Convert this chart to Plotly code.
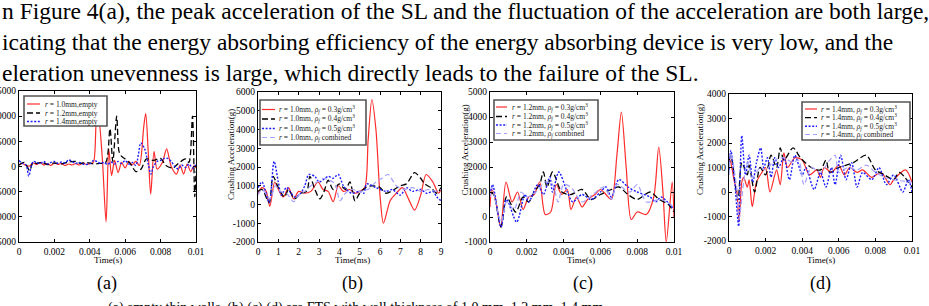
import plotly.graph_objects as go

# ---------------- data ----------------
# (a) empty thin walls: time (s), crushing acceleration (g)
a_r10 = [(0,300),(0.0002,600),(0.0004,200),(0.0006,100),(0.0008,700),(0.001,400),(0.0012,800),(0.0014,300),
         (0.0016,600),(0.0018,200),(0.002,700),(0.0022,400),(0.0024,600),(0.0026,200),(0.0028,500),(0.003,300),
         (0.0032,600),(0.0034,300),(0.0036,700),(0.0038,400),(0.004,600),(0.0042,800),(0.00438,9200),(0.00448,9800),
         (0.0047,2000),(0.00492,-11000),(0.00507,3500),(0.00523,-1800),(0.0054,1200),(0.0056,-1200),(0.0058,800),
         (0.006,-300),(0.0062,1000),(0.0064,300),(0.0066,1000),(0.0068,200),(0.00705,8000),(0.00716,10500),
         (0.0073,3000),(0.00744,-5500),(0.00763,3000),(0.0078,-500),(0.0081,800),(0.00834,3500),(0.0086,0),
         (0.0089,-1500),(0.0091,300),(0.0093,-1500),(0.0095,500),(0.0097,-1000),(0.0099,200),(0.01,-300)]
a_r12 = [(0,300),(0.0003,800),(0.0006,-800),(0.0008,900),(0.001,600),(0.0013,800),(0.0016,400),(0.002,700),
         (0.0024,500),(0.0028,900),(0.0032,1000),(0.0035,600),(0.0038,800),(0.0042,500),(0.0045,600),
         (0.0049,800),(0.00514,7500),(0.0053,1000),(0.00552,10000),(0.00565,3000),(0.0058,2000),(0.006,1500),
         (0.0063,500),(0.0066,-1000),(0.0069,-500),(0.0072,1500),(0.0076,1200),(0.008,1600),(0.0083,200),
         (0.0087,-300),(0.009,600),(0.0094,1500),(0.0096,800),(0.0098,10000),(0.00993,-6000),(0.01,-1000)]
a_r14 = [(0,1200),(0.0002,600),(0.0004,300),(0.00055,-1900),(0.0007,200),(0.0008,1000),(0.001,800),
         (0.0012,600),(0.0014,1000),(0.0016,500),(0.0018,800),(0.002,1000),(0.0022,600),(0.0024,900),
         (0.0026,700),(0.0028,1300),(0.003,1000),(0.0032,600),(0.0034,800),(0.0036,500),(0.0038,400),
         (0.004,500),(0.0042,1200),(0.0044,1000),(0.0046,600),(0.0048,800),(0.005,400),(0.0052,900),
         (0.0054,500),(0.0056,1000),(0.0058,600),(0.006,1200),(0.0062,500),(0.0064,800),(0.0066,200),
         (0.00675,2500),(0.00688,4700),(0.0071,3500),(0.0073,500),(0.00745,-1500),(0.0076,0),(0.0078,1000),
         (0.008,1200),(0.0082,1600),(0.0084,1600),(0.0086,1000),(0.0088,0),(0.009,-500),(0.0092,300),
         (0.0094,-200),(0.0096,500),(0.0098,-300),(0.01,300)]

# (b) FTS, wall 1.0 mm: time (ms), acceleration (g)
b_03 = [(0,600),(0.2,900),(0.4,700),(0.58,-100),(0.82,1200),(1.0,800),(1.25,400),(1.5,900),(1.75,300),
        (2.0,700),(2.3,600),(2.6,700),(2.95,1200),(3.2,800),(3.45,700),(3.7,150),(3.95,1000),(4.2,700),
        (4.5,800),(4.8,600),(5.0,700),(5.25,900),(5.42,3500),(5.6,5600),(5.8,4000),(6.0,500),(6.17,-1000),
        (6.5,200),(6.8,600),(7.1,900),(7.4,300),(7.7,-300),(8.0,500),(8.27,1600),(8.6,1200),(8.88,600),(9.0,800)]
b_04 = [(0,700),(0.2,800),(0.55,100),(0.74,1500),(1.0,900),(1.3,400),(1.5,800),(1.8,300),(2.1,600),
        (2.4,700),(2.55,1500),(2.8,800),(3.04,300),(3.25,700),(3.45,1300),(3.7,800),(4.0,1100),(4.3,800),
        (4.52,1200),(4.77,200),(5.0,600),(5.3,900),(5.6,1000),(6.0,900),(6.3,600),(6.7,800),(7.0,1000),
        (7.3,1100),(7.7,1700),(8.0,1400),(8.2,1100),(8.5,900),(8.8,600),(9.0,900)]
b_05 = [(0,900),(0.2,1200),(0.55,100),(0.79,2300),(1.0,1200),(1.15,500),(1.4,900),(1.8,400),(2.1,600),
        (2.3,1000),(2.5,1600),(2.8,1500),(3.0,1200),(3.45,1500),(3.7,1400),(3.95,1600),(4.2,1000),(4.6,600),
        (5.0,700),(5.2,600),(5.35,1100),(5.8,900),(6.3,700),(6.6,800),(7.0,500),(7.3,900),(7.6,700),(8.0,800),
        (8.3,600),(8.6,700),(8.8,400),(9.0,200)]
b_comb = [(0,500),(0.2,800),(0.6,300),(0.85,1000),(1.1,700),(1.4,600),(1.75,150),(2.0,500),(2.3,700),
          (2.6,1000),(2.9,1200),(3.2,1400),(3.5,1300),(3.8,1100),(4.03,200),(4.3,600),(4.6,800),(5.0,700),
          (5.4,800),(5.8,1200),(6.1,1400),(6.4,1600),(6.8,1000),(7.2,800),(7.6,900),(8.0,700),(8.4,800),
          (8.8,700),(9.0,800)]

# (c) FTS, wall 1.2 mm: time (s), acceleration (g)
c_03 = [(0,400),(0.0001,1100),(0.0003,700),(0.00058,-400),(0.00087,1400),(0.0012,600),(0.0015,1000),
        (0.0018,300),(0.0021,800),(0.0024,900),(0.0027,1400),(0.003,100),(0.0033,200),(0.0036,1300),
        (0.0039,900),(0.0042,1100),(0.0044,300),(0.0047,800),(0.005,400),(0.0053,700),(0.0057,900),
        (0.006,1100),(0.0063,900),(0.0066,700),(0.0069,2500),(0.00714,4200),(0.0074,2000),(0.00768,-100),
        (0.008,200),(0.0085,100),(0.0089,800),(0.00917,2800),(0.0094,1000),(0.00958,-1000),(0.0099,1400),(0.01,0)]
c_04 = [(0,1000),(0.0002,900),(0.0006,-400),(0.0009,800),(0.0014,200),(0.0018,800),(0.0021,600),
        (0.0024,1000),(0.0027,1300),(0.0029,1800),(0.0031,1200),(0.0034,1800),(0.0039,1000),(0.0044,900),
        (0.005,1100),(0.0055,700),(0.006,900),(0.0066,1100),(0.007,1200),(0.0075,900),(0.008,700),
        (0.0087,1000),(0.0092,700),(0.0097,500),(0.01,200)]
c_05 = [(0,900),(0.00014,1300),(0.0006,-400),(0.0009,700),(0.00145,-200),(0.0019,900),(0.0021,600),
        (0.0026,1300),(0.0029,900),(0.00325,1600),(0.0034,1000),(0.00374,1800),(0.0042,1000),(0.0045,600),
        (0.005,900),(0.0055,700),(0.006,1000),(0.0063,1200),(0.0066,800),(0.007,1500),(0.0075,1200),
        (0.008,1000),(0.0087,800),(0.009,600),(0.0093,800),(0.01,300)]
c_comb = [(0,800),(0.0001,1200),(0.0006,-200),(0.0009,600),(0.0013,300),(0.0017,1000),(0.002,800),
          (0.0025,1000),(0.003,1400),(0.0034,1300),(0.0037,600),(0.004,1300),(0.0044,1200),(0.005,600),
          (0.0056,900),(0.0062,1200),(0.0066,700),(0.0069,1300),(0.0076,1000),(0.008,1300),(0.0085,600),
          (0.0093,700),(0.01,400)]

# (d) FTS, wall 1.4 mm: time (s), acceleration (g)
d_03 = [(0,1400),(0.0001,1200),(0.0003,400),(0.00042,100),(0.00055,-1200),(0.0007,400),(0.0008,600),
        (0.001,200),(0.0011,500),(0.00127,-600),(0.0015,400),(0.0018,800),(0.002,1000),(0.00224,0),
        (0.0026,900),(0.0028,300),(0.003,1600),(0.0032,1000),(0.0036,1400),(0.004,1300),(0.0044,700),
        (0.0048,900),(0.005,600),(0.0052,1000),(0.0056,800),(0.006,1100),(0.0063,700),(0.0066,1000),
        (0.007,800),(0.0073,900),(0.0078,600),(0.0083,800),(0.0088,300),(0.009,500),(0.00965,900),(0.01,400)]
d_04 = [(0,1300),(0.0001,1500),(0.0004,0),(0.0005,-300),(0.0007,1200),(0.001,700),(0.0011,1100),
        (0.0014,0),(0.0017,1000),(0.002,700),(0.0023,1500),(0.0026,1000),(0.0028,1800),(0.003,1300),
        (0.0035,1800),(0.0039,1400),(0.0045,1000),(0.005,900),(0.0053,1300),(0.0055,800),(0.006,1000),
        (0.0068,1200),(0.0075,1500),(0.008,900),(0.0085,700),(0.009,500),(0.0093,800),(0.01,200)]
d_05 = [(0,900),(0.0001,1700),(0.0003,500),(0.00053,-1400),(0.0006,500),(0.0007,2300),(0.0009,700),
        (0.0011,1500),(0.0013,400),(0.0015,1200),(0.00173,1800),(0.0019,1000),(0.0021,1400),(0.0023,600),
        (0.0025,1400),(0.0027,1000),(0.003,1400),(0.0033,500),(0.0036,1500),(0.004,700),(0.0042,1000),
        (0.00465,100),(0.005,800),(0.0053,200),(0.0056,1000),(0.0058,300),(0.0061,1500),(0.0064,500),
        (0.0067,1200),(0.007,200),(0.0073,800),(0.0078,500),(0.0082,1000),(0.0086,300),(0.009,700),
        (0.0095,0),(0.0098,500),(0.01,0)]
d_comb = [(0,700),(0.0001,1600),(0.0004,300),(0.00055,-1100),(0.0008,400),(0.001,1200),(0.0013,600),
          (0.0017,1000),(0.002,900),(0.0025,1300),(0.003,1400),(0.0035,1200),(0.0038,1300),(0.0041,300),
          (0.0045,1000),(0.005,800),(0.0055,1300),(0.0058,1500),(0.006,800),(0.0065,1000),(0.007,900),
          (0.0075,1100),(0.008,800),(0.0085,600),(0.009,500),(0.01,400)]

# tick values / labels
ticks_t_s = [0, 0.002, 0.004, 0.006, 0.008, 0.01]
ticks_t_s_text = ["0", "0.002", "0.004", "0.006", "0.008", "0.01"]
ticks_t_ms = [0, 1, 2, 3, 4, 5, 6, 7, 8, 9]
ticks_a_y = [-15000, -10000, -5000, 0, 5000, 10000, 15000]
ticks_b_y = [-2000, -1000, 0, 1000, 2000, 3000, 4000, 5000, 6000]
ticks_c_y = [-1000, 0, 1000, 2000, 3000, 4000, 5000]
ticks_d_y = [-2000, -1000, 0, 1000, 2000, 3000, 4000]

# legend labels
a_names = ["<i>r</i> = 1.0mm,empty", "<i>r</i> = 1.2mm,empty", "<i>r</i> = 1.4mm,empty"]
def fts_names(th):
    return [f"<i>r</i> = {th}mm, <i>ρ</i><sub><i>f</i></sub> = 0.3g/cm<sup>3</sup>",
            f"<i>r</i> = {th}mm, <i>ρ</i><sub><i>f</i></sub> = 0.4g/cm<sup>3</sup>",
            f"<i>r</i> = {th}mm, <i>ρ</i><sub><i>f</i></sub> = 0.5g/cm<sup>3</sup>",
            f"<i>r</i> = {th}mm, <i>ρ</i><sub><i>f</i></sub> combined"]
b_names = fts_names("1.0")
c_names = fts_names("1.2")
d_names = fts_names("1.4")

paragraph = ["n Figure 4(a), the peak acceleration of the SL and the fluctuation of the acceleration are both large,",
             "icating that the energy absorbing efficiency of the energy absorbing device is very low, and the",
             "eleration unevenness is large, which directly leads to the failure of the SL."]
sub_labels = ["(a)", "(b)", "(c)", "(d)"]
caption = "(a) empty thin walls, (b) (c) (d) are FTS with wall thickness of 1.0 mm, 1.2 mm, 1.4 mm"
x_titles = ["Time(s)", "Time(ms)", "Time(s)", "Time(s)"]
y_title = "Crushing Acceleration(g)"

# ---------------- layout helpers ----------------
W, H = 929, 306
FONT = "Liberation Serif"
def fx(p):
    return p / W
def fy(p):
    return 1 - p / H

styles = [dict(color="#ff2b2b", dash="solid", width=1.2),
          dict(color="#000000", dash="6px,3px", width=1.3),
          dict(color="#1c1cff", dash="2px,1.6px", width=1.4),
          dict(color="#a3a0ff", dash="5px,3px", width=1.2)]

panels = [
    dict(series=[a_r10, a_r12, a_r14], names=a_names, box=(19, 91, 196, 242),
         xr=[0, 0.01], yr=[-15000, 15000], xt=ticks_t_s, xtt=ticks_t_s_text, yt=ticks_a_y,
         leg=dict(box=(24, 96, 107, 126), rows=[104, 113, 121.5], lx=(27, 40), tx=43),
         xtitle=(108, 260), ytitle=None, lab=107),
    dict(series=[b_03, b_04, b_05, b_comb], names=b_names, box=(258, 92, 441, 242),
         xr=[0, 9], yr=[-2000, 6000], xt=ticks_t_ms, xtt=[str(v) for v in ticks_t_ms], yt=ticks_b_y,
         leg=dict(box=(260, 100, 366, 145), rows=[109.5, 119, 128.5, 137.5], lx=(262, 275), tx=277),
         xtitle=(352, 260), ytitle=(231, 155), lab=352),
    dict(series=[c_03, c_04, c_05, c_comb], names=c_names, box=(490, 92, 674, 242),
         xr=[0, 0.01], yr=[-1000, 5000], xt=ticks_t_s, xtt=ticks_t_s_text, yt=ticks_c_y,
         leg=dict(box=(494, 100, 598, 140), rows=[107, 116.5, 125, 133.5], lx=(496, 507), tx=510),
         xtitle=(581, 260), ytitle=(464.5, 150), lab=583),
    dict(series=[d_03, d_04, d_05, d_comb], names=d_names, box=(729, 94, 912, 241),
         xr=[0, 0.01], yr=[-2000, 4000], xt=ticks_t_s, xtt=ticks_t_s_text, yt=ticks_d_y,
         leg=dict(box=(802, 102, 910, 140), rows=[109, 117.7, 126.3, 134.5], lx=(805, 817), tx=819),
         xtitle=(821, 260), ytitle=(700, 150), lab=820),
]

fig = go.Figure()
shapes = []
annotations = []
axis_common = dict(showline=True, linecolor="black", linewidth=1.4, mirror="ticks", ticks="inside",
                   ticklen=3, tickwidth=1, tickcolor="black", showgrid=False, zeroline=False,
                   automargin=False, tickfont=dict(family=FONT, size=9.5, color="black"), fixedrange=True)

for i, p in enumerate(panels):
    n = "" if i == 0 else str(i + 1)
    x0, y0, x1, y1 = p["box"]
    fig.update_layout(**{
        f"xaxis{n}": dict(axis_common, domain=[fx(x0), fx(x1)], range=p["xr"], anchor=f"y{n}",
                          tickvals=p["xt"], ticktext=p["xtt"]),
        f"yaxis{n}": dict(axis_common, domain=[fy(y1), fy(y0)], range=p["yr"], anchor=f"x{n}",
                          tickvals=p["yt"], ticktext=[str(v) for v in p["yt"]]),
    })
    for s, name, st in zip(p["series"], p["names"], styles):
        xs = [v[0] for v in s]
        ys = [v[1] for v in s]
        fig.add_trace(go.Scatter(x=xs, y=ys, mode="lines", name=name, showlegend=False,
                                 xaxis=f"x{n}", yaxis=f"y{n}",
                                 line=dict(color=st["color"], dash=st["dash"], width=st["width"],
                                           shape="spline", smoothing=0.8)))
    # legend box drawn by hand (compact, like the original)
    lg = p["leg"]
    bx0, by0, bx1, by1 = lg["box"]
    shapes.append(dict(type="rect", xref="paper", yref="paper", x0=fx(bx0), x1=fx(bx1), y0=fy(by1), y1=fy(by0),
                       line=dict(color="#555555", width=1.6), fillcolor="white", layer="above"))
    for row, name, st in zip(lg["rows"], p["names"], styles):
        shapes.append(dict(type="line", xref="paper", yref="paper", x0=fx(lg["lx"][0]), x1=fx(lg["lx"][1]),
                           y0=fy(row), y1=fy(row), layer="above",
                           line=dict(color=st["color"], dash=st["dash"], width=st["width"])))
        annotations.append(dict(text=name, xref="paper", yref="paper", x=fx(lg["tx"]), y=fy(row),
                                xanchor="left", yanchor="middle", showarrow=False,
                                font=dict(family=FONT, size=7.5, color="#222222")))
    # axis titles
    annotations.append(dict(text=x_titles[i], xref="paper", yref="paper", x=fx(p["xtitle"][0]),
                            y=fy(p["xtitle"][1]), xanchor="center", yanchor="middle", showarrow=False,
                            font=dict(family=FONT, size=9, color="black")))
    if p["ytitle"]:
        annotations.append(dict(text=y_title, xref="paper", yref="paper", x=fx(p["ytitle"][0]),
                                y=fy(p["ytitle"][1]), xanchor="center", yanchor="middle", showarrow=False,
                                textangle=-90, font=dict(family=FONT, size=9, color="black")))
    annotations.append(dict(text=sub_labels[i], xref="paper", yref="paper", x=fx(p["lab"]), y=fy(283),
                            xanchor="center", yanchor="middle", showarrow=False,
                            font=dict(family=FONT, size=18, color="black")))

for k, line in enumerate(paragraph):
    annotations.append(dict(text=line, xref="paper", yref="paper", x=0, y=fy(11.5 + 30.5 * k),
                            xanchor="left", yanchor="middle", showarrow=False,
                            font=dict(family=FONT, size=23.5, color="black")))
annotations.append(dict(text=caption, xref="paper", yref="paper", x=fx(355), y=fy(298),
                        xanchor="center", yanchor="top", showarrow=False,
                        font=dict(family=FONT, size=14, color="black")))

fig.update_layout(width=W, height=H, margin=dict(l=0, r=0, t=0, b=0), paper_bgcolor="white",
                  plot_bgcolor="white", shapes=shapes, annotations=annotations, showlegend=False)
fig.write_html("out.html")
